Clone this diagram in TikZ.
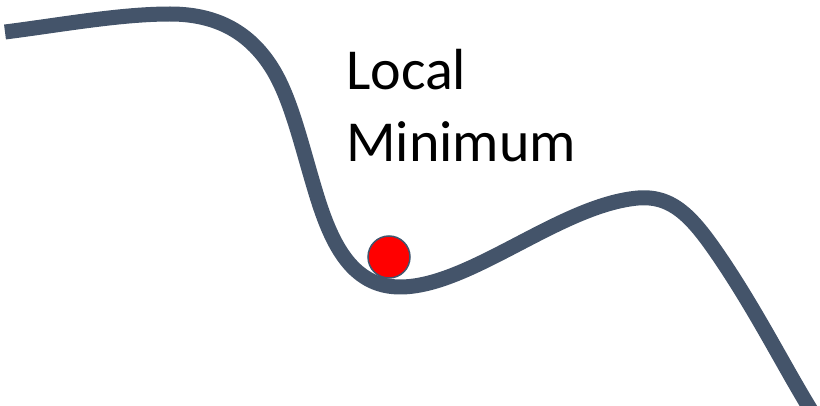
\documentclass[tikz,border=0pt]{standalone}
\usepackage{fontspec}
\setmainfont{Carlito}
\definecolor{curvecol}{HTML}{44546A}
\definecolor{ballborder}{HTML}{41556D}
\tikzset{
  landscape/.style={draw=curvecol, line width=15pt, line cap=butt, line join=round},
  ballstyle/.style={circle, fill=red, draw=ballborder, line width=1.5pt, minimum size=42pt, inner sep=0pt},
  labeltext/.style={font=\fontsize{58}{72}\selectfont, text=black, inner sep=0pt, anchor=base west}
}
\begin{document}
\begin{tikzpicture}[x=1pt,y=-1pt]
\useasboundingbox (0,0) rectangle (820,406);
\clip (0,0) rectangle (820,406);
\draw[landscape] (5,32) .. controls (60,25) and (120,14) .. (170,14)
  .. controls (220,14) and (250,35) .. (270,65)
  .. controls (290,95) and (300,140) .. (315,190)
  .. controls (330,240) and (350,287) .. (400,287)
  .. controls (470,287) and (560,205) .. (638,198)
  .. controls (675,195) and (695,220) .. (725,265)
  .. controls (760,318) and (785,368) .. (812,412);
\node[ballstyle] (ball) at (389,257) {};
\node[labeltext] (local) at (346,90) {Local};
\node[labeltext] (minimum) at (346,162) {Minimum};
\end{tikzpicture}
\end{document}
